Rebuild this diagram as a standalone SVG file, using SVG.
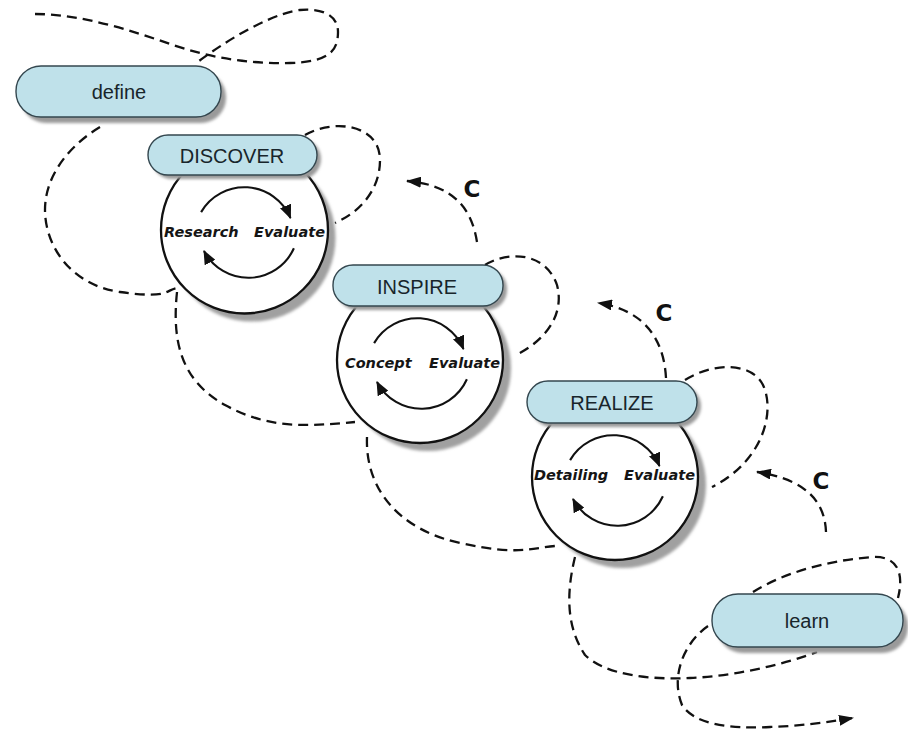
<svg xmlns="http://www.w3.org/2000/svg" xmlns:xlink="http://www.w3.org/1999/xlink" width="908" height="732" viewBox="0 0 908 732">
  <style>
    .pill { fill: #bfe1ea; stroke: #34474f; stroke-width: 1.4; }
    .pill-shadow { fill: #9a9a9a; filter: url(#soft); }
    .ring { fill: #ffffff; stroke: #111111; stroke-width: 2.3; }
    .ring-shadow { fill: #a0a0a0; filter: url(#soft); }
    .pill-label { font-family: "Liberation Sans", Arial, sans-serif; font-size: 20px; fill: #18252b; text-anchor: middle; }
    .step { font-family: "DejaVu Sans", sans-serif; font-size: 14.5px; font-weight: bold; font-style: italic; fill: #151515; }
    .c-label { font-family: "DejaVu Sans", sans-serif; font-size: 23px; font-weight: bold; fill: #111111; text-anchor: middle; }
    .dash { fill: none; stroke: #111111; stroke-width: 2.3; stroke-dasharray: 10 6; }
    .arc { fill: none; stroke: #111111; stroke-width: 2.1; marker-end: url(#tri); }
  </style>
  <defs>
    <filter id="soft" x="-20%" y="-20%" width="140%" height="140%">
      <feGaussianBlur stdDeviation="1.5"/>
    </filter>
    <marker id="tri" viewBox="0 0 14 12" refX="13" refY="6" markerWidth="14" markerHeight="12" markerUnits="userSpaceOnUse" orient="auto">
      <path d="M0,0 L14,6 L0,12 Z" fill="#111111"/>
    </marker>
    <marker id="dart" viewBox="0 0 15 11" refX="14" refY="5.5" markerWidth="15" markerHeight="11" markerUnits="userSpaceOnUse" orient="auto">
      <path d="M0,0 L15,5.5 L0,11 Z" fill="#111111"/>
    </marker>
    <!-- two-arrow loop drawn inside each phase circle -->
    <g id="cycle">
      <path class="arc" d="M-44.9,-21.9 A50,50 0 0 1 44.5,-16"/>
      <path class="arc" d="M47.9,14.3 A50,50 0 0 1 -42,17"/>
    </g>
  </defs>

  <g id="connectors">
    <path class="dash" d="M35,14 C80,14 130,30 170,44 S250,64 290,63 S338,50 338,32 S320,8 300,10 S240,30 195,64"/>
    <path class="dash" d="M100,127 C70,145 45,175 45,210 S70,285 120,292 S165,290 177,288"/>
    <path class="dash" d="M305,135 C335,118 380,125 380,160 C380,190 360,212 335,223"/>
    <path class="dash" d="M177,292 C172,340 180,380 225,405 S310,426 355,422"/>
    <path class="dash" d="M477,242 C472,210 455,185 407,181" marker-end="url(#dart)"/>
    <path class="dash" d="M485,265 C505,252 545,250 557,285 C565,315 545,340 518,354"/>
    <path class="dash" d="M367,437 C365,490 400,530 460,543 S530,548 555,546"/>
    <path class="dash" d="M666,378 C664,340 645,310 598,303" marker-end="url(#dart)"/>
    <path class="dash" d="M685,380 C710,364 750,360 763,385 C775,410 765,460 712,487"/>
    <path class="dash" d="M826,532 C825,505 810,480 757,472" marker-end="url(#dart)"/>
    <path class="dash" d="M575,557 C567,590 565,625 585,655 C605,675 650,680 690,678 C740,676 790,662 817,652"/>
    <path class="dash" d="M753,592 C785,572 830,560 873,557 C895,556 905,570 898,598"/>
    <path class="dash" d="M708,626 C685,642 670,675 682,705 C695,725 730,729 770,727 C800,726 830,722 853,718" marker-end="url(#dart)"/>
    <text class="c-label" x="472" y="197">C</text>
    <text class="c-label" x="664" y="321">C</text>
    <text class="c-label" x="821" y="489">C</text>
  </g>

  <g id="define">
    <rect class="pill-shadow" x="21" y="72" width="205" height="51" rx="25"/>
    <rect class="pill" x="16" y="66" width="205" height="51" rx="25"/>
    <text class="pill-label" x="119" y="99">define</text>
  </g>

  <g id="discover">
    <circle class="ring-shadow" cx="252" cy="238" r="83.5"/>
    <circle class="ring" cx="244.5" cy="230" r="83.5"/>
    <use xlink:href="#cycle" x="246" y="234"/>
    <text class="step" x="164" y="237">Research</text>
    <text class="step" x="254" y="237">Evaluate</text>
    <rect class="pill-shadow" x="152" y="139" width="169" height="40" rx="20"/>
    <rect class="pill" x="148" y="135" width="169" height="40" rx="20"/>
    <text class="pill-label" x="232" y="163">DISCOVER</text>
  </g>

  <g id="inspire">
    <circle class="ring-shadow" cx="428" cy="368" r="83"/>
    <circle class="ring" cx="420" cy="360" r="83"/>
    <use xlink:href="#cycle" x="419" y="365"/>
    <text class="step" x="345" y="368">Concept</text>
    <text class="step" x="429" y="368">Evaluate</text>
    <rect class="pill-shadow" x="337" y="269" width="170" height="41" rx="20"/>
    <rect class="pill" x="333" y="265" width="170" height="41" rx="20"/>
    <text class="pill-label" x="417" y="294">INSPIRE</text>
  </g>

  <g id="realize">
    <circle class="ring-shadow" cx="623" cy="485" r="83"/>
    <circle class="ring" cx="615" cy="477" r="83"/>
    <use xlink:href="#cycle" x="615" y="482"/>
    <text class="step" x="534" y="480">Detailing</text>
    <text class="step" x="624" y="480">Evaluate</text>
    <rect class="pill-shadow" x="531" y="385" width="170" height="42" rx="21"/>
    <rect class="pill" x="527" y="381" width="170" height="42" rx="21"/>
    <text class="pill-label" x="612" y="410">REALIZE</text>
  </g>

  <g id="learn">
    <rect class="pill-shadow" x="717" y="600" width="191" height="53" rx="26"/>
    <rect class="pill" x="712" y="594" width="191" height="53" rx="26"/>
    <text class="pill-label" x="807" y="628">learn</text>
  </g>
</svg>
